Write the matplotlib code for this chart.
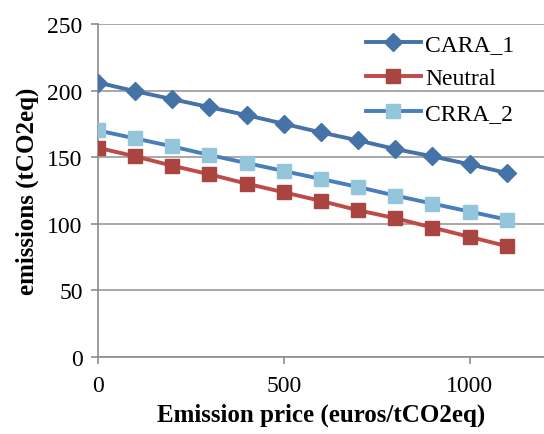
import matplotlib
matplotlib.use("Agg")
import matplotlib.pyplot as plt

price = [0, 100, 200, 300, 400, 500, 600, 700, 800, 900, 1000, 1100]
cara_1 = [206, 199.5, 193.5, 187.5, 181.5, 175, 168.5, 162.5, 156, 150.5, 144.5, 138]
neutral = [157, 150.5, 143.5, 137, 130, 123.5, 117, 110, 104, 97, 90, 83]
crra_2 = [170, 164, 158, 151.5, 145.5, 139.5, 133.5, 127.5, 121, 115, 109, 103]
xticks = [0, 500, 1000]
yticks = [0, 50, 100, 150, 200, 250]

plt.rcParams['font.family'] = ['Liberation Serif', 'DejaVu Serif']

fig = plt.figure(figsize=(5.44, 4.35), dpi=100)
ax = fig.add_axes([0.180, 0.178, 0.820, 0.7645])

ax.plot(price, cara_1, color='#4572A7', lw=2.8, marker='D', ms=9.5,
        mfc='#4572A7', mec='#4572A7', label='CARA_1', zorder=3)
ax.plot(price, neutral, color='#BE4B48', lw=2.8, marker='s', ms=10,
        mfc='#A94441', mec='#A94441', label='Neutral', zorder=3)
ax.plot(price, crra_2, color='#4A7EBB', lw=2.8, marker='s', ms=10,
        mfc='#93C6DA', mec='#93C6DA', label='CRRA_2', zorder=3)

ax.set_xlim(0, 1200)
ax.set_ylim(0, 250)
ax.set_xticks(xticks)
ax.set_yticks(yticks)
ax.grid(axis='y', color='#9a9a9a', lw=1.2)
ax.set_axisbelow(True)
for s in ['top', 'right']:
    ax.spines[s].set_visible(False)
for s in ['left', 'bottom']:
    ax.spines[s].set_color('#8c8c8c')
    ax.spines[s].set_linewidth(1.2)
ax.tick_params(axis='both', direction='out', length=5, color='#8c8c8c',
               labelsize=17, width=1.2, pad=6)
ax.tick_params(axis='x', pad=8)

ax.set_xlabel('Emission price (euros/tCO2eq)', fontsize=18, fontweight='bold', labelpad=5)
ax.set_ylabel('emissions (tCO2eq)', fontsize=18, fontweight='bold', labelpad=6)

ax.legend(loc='upper right', frameon=False, fontsize=17, handlelength=2.3,
          borderaxespad=0.0, labelspacing=0.55, handletextpad=0.2,
          bbox_to_anchor=(0.955, 1.0))

fig.savefig('out.png', dpi=100)
